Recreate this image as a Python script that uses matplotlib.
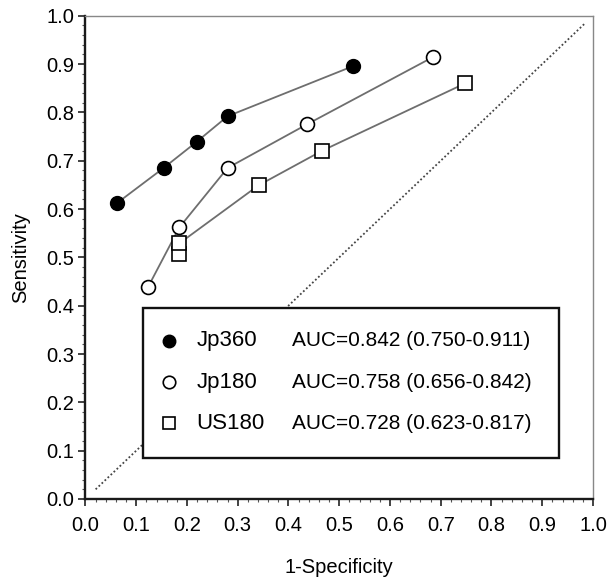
import numpy as np
import matplotlib
matplotlib.use('Agg')
import matplotlib.pyplot as plt
from matplotlib.patches import Rectangle
from matplotlib.ticker import MultipleLocator

plt.rcParams['font.family'] = ['Liberation Sans', 'DejaVu Sans']

# ROC points (1-specificity, sensitivity)
jp360_x = [0.063, 0.154, 0.219, 0.280, 0.528]
jp360_y = [0.613, 0.685, 0.739, 0.792, 0.896]
jp180_x = [0.123, 0.185, 0.280, 0.436, 0.684]
jp180_y = [0.438, 0.562, 0.685, 0.775, 0.914]
us180_x = [0.185, 0.185, 0.341, 0.467, 0.748]
us180_y = [0.507, 0.529, 0.649, 0.721, 0.860]

names = ['Jp360', 'Jp180', 'US180']
auc_labels = ['AUC=0.842 (0.750-0.911)', 'AUC=0.758 (0.656-0.842)', 'AUC=0.728 (0.623-0.817)']
diag = [0.02, 0.985]

fig = plt.figure(figsize=(6.08, 5.78), dpi=100)
ax = fig.add_axes([0.1406, 0.1367, 0.8347, 0.8361])

ax.plot(diag, diag, color='#444444', lw=1.3, ls=(0, (1, 1.3)))

styles = [
    dict(marker='o', mfc='black', mec='black', ms=10),
    dict(marker='o', mfc='white', mec='black', ms=10, mew=1.2),
    dict(marker='s', mfc='white', mec='black', ms=10, mew=1.2),
]
series = [(jp360_x, jp360_y), (jp180_x, jp180_y), (us180_x, us180_y)]
for (xs, ys), st in zip(series, styles):
    ax.plot(xs, ys, color='#6e6e6e', lw=1.3, zorder=2)
    ax.plot(xs, ys, ls='none', zorder=3, **st)

# legend box drawn by hand (two text columns)
ax.add_patch(Rectangle((0.114, 0.084), 0.82, 0.311, fill=True, fc='white',
                       ec='#111111', lw=1.7, zorder=4))
row_y = [0.327, 0.242, 0.157]
for yy, st, nm, auc in zip(row_y, styles, names, auc_labels):
    st2 = dict(st)
    st2['ms'] = 9
    ax.plot([0.164], [yy], ls='none', zorder=5, **st2)
    ax.text(0.219, yy, nm, fontsize=16, va='center', ha='left', zorder=5)
    ax.text(0.407, yy, auc, fontsize=15, va='center', ha='left', zorder=5)

ax.set_xlim(0, 1)
ax.set_ylim(0, 1)
ax.xaxis.set_major_locator(MultipleLocator(0.1))
ax.yaxis.set_major_locator(MultipleLocator(0.1))
ax.xaxis.set_minor_locator(MultipleLocator(0.02))
ax.yaxis.set_minor_locator(MultipleLocator(0.02))
ax.xaxis.set_major_formatter(lambda v, p: f'{v:.1f}')
ax.yaxis.set_major_formatter(lambda v, p: f'{v:.1f}')
ax.tick_params(which='major', direction='out', length=5, width=1.2, labelsize=14.5,
               color='#222222', pad=3)
ax.tick_params(axis='x', which='major', pad=7)
ax.tick_params(which='minor', direction='out', length=2.5, width=0.8, color='#555555')
ax.tick_params(top=False, right=False, which='both')

for s in ['left', 'bottom']:
    ax.spines[s].set_linewidth(1.7)
    ax.spines[s].set_color('#1a1a1a')
for s in ['top', 'right']:
    ax.spines[s].set_linewidth(1.0)
    ax.spines[s].set_color('#888888')

ax.set_xlabel('1-Specificity', fontsize=14.5, labelpad=17)
ax.set_ylabel('Sensitivity', fontsize=14.5, labelpad=12)

fig.savefig('out.png', dpi=100)
